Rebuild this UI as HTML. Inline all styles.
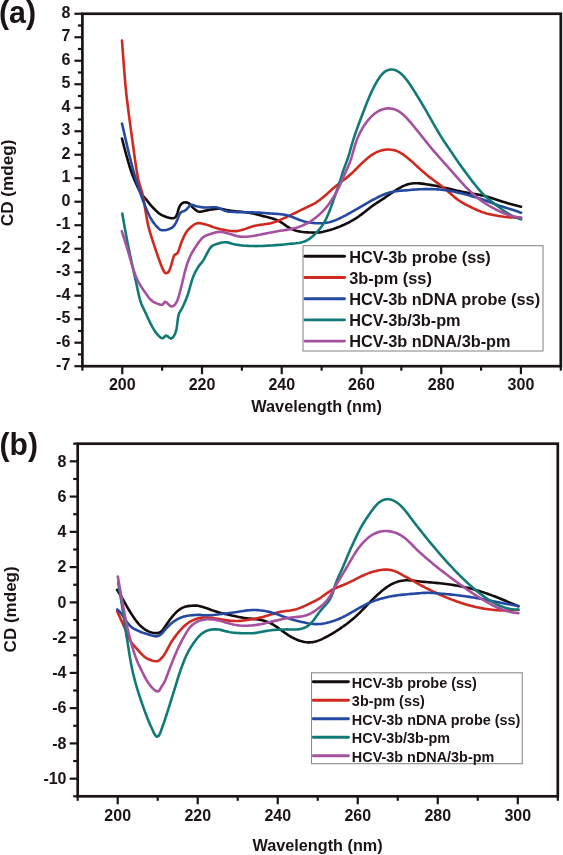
<!DOCTYPE html>
<html><head><meta charset="utf-8"><style>html,body{margin:0;padding:0;background:#fff;width:563px;height:855px;overflow:hidden}svg{display:block;will-change:transform}</style></head><body>
<svg width="563" height="855" viewBox="0 0 563 855">
<rect width="563" height="855" fill="#ffffff"/>
<g font-family='"Liberation Sans", sans-serif' font-weight="bold" fill="#1c1414">
<rect x="82.40" y="13.75" width="478.40" height="352.45" fill="none" stroke="#1c1414" stroke-width="2.7"/>
<line x1="74.40" y1="366.20" x2="82.40" y2="366.20" stroke="#1c1414" stroke-width="2.2"/>
<text x="70.30" y="370.30" text-anchor="end" font-size="16">-7</text>
<line x1="77.90" y1="354.45" x2="82.40" y2="354.45" stroke="#1c1414" stroke-width="2.2"/>
<line x1="74.40" y1="342.70" x2="82.40" y2="342.70" stroke="#1c1414" stroke-width="2.2"/>
<text x="70.30" y="346.80" text-anchor="end" font-size="16">-6</text>
<line x1="77.90" y1="330.95" x2="82.40" y2="330.95" stroke="#1c1414" stroke-width="2.2"/>
<line x1="74.40" y1="319.21" x2="82.40" y2="319.21" stroke="#1c1414" stroke-width="2.2"/>
<text x="70.30" y="323.31" text-anchor="end" font-size="16">-5</text>
<line x1="77.90" y1="307.46" x2="82.40" y2="307.46" stroke="#1c1414" stroke-width="2.2"/>
<line x1="74.40" y1="295.71" x2="82.40" y2="295.71" stroke="#1c1414" stroke-width="2.2"/>
<text x="70.30" y="299.81" text-anchor="end" font-size="16">-4</text>
<line x1="77.90" y1="283.96" x2="82.40" y2="283.96" stroke="#1c1414" stroke-width="2.2"/>
<line x1="74.40" y1="272.21" x2="82.40" y2="272.21" stroke="#1c1414" stroke-width="2.2"/>
<text x="70.30" y="276.31" text-anchor="end" font-size="16">-3</text>
<line x1="77.90" y1="260.47" x2="82.40" y2="260.47" stroke="#1c1414" stroke-width="2.2"/>
<line x1="74.40" y1="248.72" x2="82.40" y2="248.72" stroke="#1c1414" stroke-width="2.2"/>
<text x="70.30" y="252.82" text-anchor="end" font-size="16">-2</text>
<line x1="77.90" y1="236.97" x2="82.40" y2="236.97" stroke="#1c1414" stroke-width="2.2"/>
<line x1="74.40" y1="225.22" x2="82.40" y2="225.22" stroke="#1c1414" stroke-width="2.2"/>
<text x="70.30" y="229.32" text-anchor="end" font-size="16">-1</text>
<line x1="77.90" y1="213.47" x2="82.40" y2="213.47" stroke="#1c1414" stroke-width="2.2"/>
<line x1="74.40" y1="201.72" x2="82.40" y2="201.72" stroke="#1c1414" stroke-width="2.2"/>
<text x="70.30" y="205.82" text-anchor="end" font-size="16">0</text>
<line x1="77.90" y1="189.97" x2="82.40" y2="189.97" stroke="#1c1414" stroke-width="2.2"/>
<line x1="74.40" y1="178.23" x2="82.40" y2="178.23" stroke="#1c1414" stroke-width="2.2"/>
<text x="70.30" y="182.33" text-anchor="end" font-size="16">1</text>
<line x1="77.90" y1="166.48" x2="82.40" y2="166.48" stroke="#1c1414" stroke-width="2.2"/>
<line x1="74.40" y1="154.73" x2="82.40" y2="154.73" stroke="#1c1414" stroke-width="2.2"/>
<text x="70.30" y="158.83" text-anchor="end" font-size="16">2</text>
<line x1="77.90" y1="142.98" x2="82.40" y2="142.98" stroke="#1c1414" stroke-width="2.2"/>
<line x1="74.40" y1="131.23" x2="82.40" y2="131.23" stroke="#1c1414" stroke-width="2.2"/>
<text x="70.30" y="135.33" text-anchor="end" font-size="16">3</text>
<line x1="77.90" y1="119.48" x2="82.40" y2="119.48" stroke="#1c1414" stroke-width="2.2"/>
<line x1="74.40" y1="107.74" x2="82.40" y2="107.74" stroke="#1c1414" stroke-width="2.2"/>
<text x="70.30" y="111.84" text-anchor="end" font-size="16">4</text>
<line x1="77.90" y1="95.99" x2="82.40" y2="95.99" stroke="#1c1414" stroke-width="2.2"/>
<line x1="74.40" y1="84.24" x2="82.40" y2="84.24" stroke="#1c1414" stroke-width="2.2"/>
<text x="70.30" y="88.34" text-anchor="end" font-size="16">5</text>
<line x1="77.90" y1="72.49" x2="82.40" y2="72.49" stroke="#1c1414" stroke-width="2.2"/>
<line x1="74.40" y1="60.74" x2="82.40" y2="60.74" stroke="#1c1414" stroke-width="2.2"/>
<text x="70.30" y="64.84" text-anchor="end" font-size="16">6</text>
<line x1="77.90" y1="48.99" x2="82.40" y2="48.99" stroke="#1c1414" stroke-width="2.2"/>
<line x1="74.40" y1="37.25" x2="82.40" y2="37.25" stroke="#1c1414" stroke-width="2.2"/>
<text x="70.30" y="41.35" text-anchor="end" font-size="16">7</text>
<line x1="77.90" y1="25.50" x2="82.40" y2="25.50" stroke="#1c1414" stroke-width="2.2"/>
<line x1="74.40" y1="13.75" x2="82.40" y2="13.75" stroke="#1c1414" stroke-width="2.2"/>
<text x="70.30" y="17.85" text-anchor="end" font-size="16">8</text>
<line x1="82.40" y1="366.20" x2="82.40" y2="370.70" stroke="#1c1414" stroke-width="2.2"/>
<line x1="122.27" y1="366.20" x2="122.27" y2="374.20" stroke="#1c1414" stroke-width="2.2"/>
<text x="122.27" y="390.30" text-anchor="middle" font-size="16">200</text>
<line x1="162.13" y1="366.20" x2="162.13" y2="370.70" stroke="#1c1414" stroke-width="2.2"/>
<line x1="202.00" y1="366.20" x2="202.00" y2="374.20" stroke="#1c1414" stroke-width="2.2"/>
<text x="202.00" y="390.30" text-anchor="middle" font-size="16">220</text>
<line x1="241.87" y1="366.20" x2="241.87" y2="370.70" stroke="#1c1414" stroke-width="2.2"/>
<line x1="281.73" y1="366.20" x2="281.73" y2="374.20" stroke="#1c1414" stroke-width="2.2"/>
<text x="281.73" y="390.30" text-anchor="middle" font-size="16">240</text>
<line x1="321.60" y1="366.20" x2="321.60" y2="370.70" stroke="#1c1414" stroke-width="2.2"/>
<line x1="361.47" y1="366.20" x2="361.47" y2="374.20" stroke="#1c1414" stroke-width="2.2"/>
<text x="361.47" y="390.30" text-anchor="middle" font-size="16">260</text>
<line x1="401.33" y1="366.20" x2="401.33" y2="370.70" stroke="#1c1414" stroke-width="2.2"/>
<line x1="441.20" y1="366.20" x2="441.20" y2="374.20" stroke="#1c1414" stroke-width="2.2"/>
<text x="441.20" y="390.30" text-anchor="middle" font-size="16">280</text>
<line x1="481.07" y1="366.20" x2="481.07" y2="370.70" stroke="#1c1414" stroke-width="2.2"/>
<line x1="520.93" y1="366.20" x2="520.93" y2="374.20" stroke="#1c1414" stroke-width="2.2"/>
<text x="520.93" y="390.30" text-anchor="middle" font-size="16">300</text>
<line x1="560.80" y1="366.20" x2="560.80" y2="370.70" stroke="#1c1414" stroke-width="2.2"/>
<text x="251.3" y="411.6" font-size="16" textLength="130.6" lengthAdjust="spacingAndGlyphs">Wavelength (nm)</text>
<text transform="translate(13.3,226.2) rotate(-90)" font-size="16" textLength="86.7" lengthAdjust="spacingAndGlyphs">CD (mdeg)</text>
<text x="-1.0" y="23.2" font-size="31.3" textLength="37.1" lengthAdjust="spacingAndGlyphs">(a)</text>
<rect x="77.70" y="443.70" width="480.10" height="352.60" fill="none" stroke="#1c1414" stroke-width="2.7"/>
<line x1="73.20" y1="796.30" x2="77.70" y2="796.30" stroke="#1c1414" stroke-width="2.2"/>
<line x1="69.70" y1="778.67" x2="77.70" y2="778.67" stroke="#1c1414" stroke-width="2.2"/>
<text x="66.50" y="783.87" text-anchor="end" font-size="16">-10</text>
<line x1="73.20" y1="761.04" x2="77.70" y2="761.04" stroke="#1c1414" stroke-width="2.2"/>
<line x1="69.70" y1="743.41" x2="77.70" y2="743.41" stroke="#1c1414" stroke-width="2.2"/>
<text x="66.50" y="748.61" text-anchor="end" font-size="16">-8</text>
<line x1="73.20" y1="725.78" x2="77.70" y2="725.78" stroke="#1c1414" stroke-width="2.2"/>
<line x1="69.70" y1="708.15" x2="77.70" y2="708.15" stroke="#1c1414" stroke-width="2.2"/>
<text x="66.50" y="713.35" text-anchor="end" font-size="16">-6</text>
<line x1="73.20" y1="690.52" x2="77.70" y2="690.52" stroke="#1c1414" stroke-width="2.2"/>
<line x1="69.70" y1="672.89" x2="77.70" y2="672.89" stroke="#1c1414" stroke-width="2.2"/>
<text x="66.50" y="678.09" text-anchor="end" font-size="16">-4</text>
<line x1="73.20" y1="655.26" x2="77.70" y2="655.26" stroke="#1c1414" stroke-width="2.2"/>
<line x1="69.70" y1="637.63" x2="77.70" y2="637.63" stroke="#1c1414" stroke-width="2.2"/>
<text x="66.50" y="642.83" text-anchor="end" font-size="16">-2</text>
<line x1="73.20" y1="620.00" x2="77.70" y2="620.00" stroke="#1c1414" stroke-width="2.2"/>
<line x1="69.70" y1="602.37" x2="77.70" y2="602.37" stroke="#1c1414" stroke-width="2.2"/>
<text x="66.50" y="607.57" text-anchor="end" font-size="16">0</text>
<line x1="73.20" y1="584.74" x2="77.70" y2="584.74" stroke="#1c1414" stroke-width="2.2"/>
<line x1="69.70" y1="567.11" x2="77.70" y2="567.11" stroke="#1c1414" stroke-width="2.2"/>
<text x="66.50" y="572.31" text-anchor="end" font-size="16">2</text>
<line x1="73.20" y1="549.48" x2="77.70" y2="549.48" stroke="#1c1414" stroke-width="2.2"/>
<line x1="69.70" y1="531.85" x2="77.70" y2="531.85" stroke="#1c1414" stroke-width="2.2"/>
<text x="66.50" y="537.05" text-anchor="end" font-size="16">4</text>
<line x1="73.20" y1="514.22" x2="77.70" y2="514.22" stroke="#1c1414" stroke-width="2.2"/>
<line x1="69.70" y1="496.59" x2="77.70" y2="496.59" stroke="#1c1414" stroke-width="2.2"/>
<text x="66.50" y="501.79" text-anchor="end" font-size="16">6</text>
<line x1="73.20" y1="478.96" x2="77.70" y2="478.96" stroke="#1c1414" stroke-width="2.2"/>
<line x1="69.70" y1="461.33" x2="77.70" y2="461.33" stroke="#1c1414" stroke-width="2.2"/>
<text x="66.50" y="466.53" text-anchor="end" font-size="16">8</text>
<line x1="73.20" y1="443.70" x2="77.70" y2="443.70" stroke="#1c1414" stroke-width="2.2"/>
<line x1="77.70" y1="796.30" x2="77.70" y2="800.80" stroke="#1c1414" stroke-width="2.2"/>
<line x1="117.71" y1="796.30" x2="117.71" y2="804.30" stroke="#1c1414" stroke-width="2.2"/>
<text x="117.71" y="821.30" text-anchor="middle" font-size="16">200</text>
<line x1="157.72" y1="796.30" x2="157.72" y2="800.80" stroke="#1c1414" stroke-width="2.2"/>
<line x1="197.73" y1="796.30" x2="197.73" y2="804.30" stroke="#1c1414" stroke-width="2.2"/>
<text x="197.73" y="821.30" text-anchor="middle" font-size="16">220</text>
<line x1="237.73" y1="796.30" x2="237.73" y2="800.80" stroke="#1c1414" stroke-width="2.2"/>
<line x1="277.74" y1="796.30" x2="277.74" y2="804.30" stroke="#1c1414" stroke-width="2.2"/>
<text x="277.74" y="821.30" text-anchor="middle" font-size="16">240</text>
<line x1="317.75" y1="796.30" x2="317.75" y2="800.80" stroke="#1c1414" stroke-width="2.2"/>
<line x1="357.76" y1="796.30" x2="357.76" y2="804.30" stroke="#1c1414" stroke-width="2.2"/>
<text x="357.76" y="821.30" text-anchor="middle" font-size="16">260</text>
<line x1="397.77" y1="796.30" x2="397.77" y2="800.80" stroke="#1c1414" stroke-width="2.2"/>
<line x1="437.77" y1="796.30" x2="437.77" y2="804.30" stroke="#1c1414" stroke-width="2.2"/>
<text x="437.77" y="821.30" text-anchor="middle" font-size="16">280</text>
<line x1="477.78" y1="796.30" x2="477.78" y2="800.80" stroke="#1c1414" stroke-width="2.2"/>
<line x1="517.79" y1="796.30" x2="517.79" y2="804.30" stroke="#1c1414" stroke-width="2.2"/>
<text x="517.79" y="821.30" text-anchor="middle" font-size="16">300</text>
<line x1="557.80" y1="796.30" x2="557.80" y2="800.80" stroke="#1c1414" stroke-width="2.2"/>
<text x="252.6" y="850.9" font-size="16" textLength="130.0" lengthAdjust="spacingAndGlyphs">Wavelength (nm)</text>
<text transform="translate(16.2,652.4) rotate(-90)" font-size="16" textLength="86.1" lengthAdjust="spacingAndGlyphs">CD (mdeg)</text>
<text x="-0.5" y="454.85" font-size="31.3" textLength="38.4" lengthAdjust="spacingAndGlyphs">(b)</text>
</g>
<path d="M122.00,138.60 L122.49,140.54 L122.98,142.48 L123.48,144.42 L123.97,146.36 L124.48,148.29 L125.00,150.23 L125.52,152.16 L126.07,154.08 L126.61,156.01 L127.14,157.94 L127.68,159.87 L128.22,161.79 L128.78,163.72 L129.34,165.64 L129.93,167.55 L130.54,169.46 L131.17,171.35 L131.84,173.24 L132.55,175.11 L133.27,176.98 L134.02,178.83 L134.79,180.68 L135.59,182.52 L136.40,184.34 L137.24,186.16 L138.11,187.96 L139.01,189.75 L139.96,191.51 L141.00,193.22 L142.16,194.85 L143.43,196.40 L144.77,197.89 L146.12,199.37 L147.38,200.91 L148.59,202.51 L149.80,204.11 L151.09,205.63 L152.47,207.08 L153.86,208.52 L155.26,209.95 L156.71,211.33 L158.21,212.66 L159.79,213.88 L161.49,214.94 L163.29,215.81 L165.15,216.56 L167.05,217.19 L168.98,217.72 L170.94,218.12 L172.93,218.32 L174.81,217.78 L176.09,216.26 L176.92,214.44 L177.54,212.54 L178.10,210.62 L178.68,208.70 L179.39,206.83 L180.37,205.09 L181.66,203.57 L183.39,202.59 L185.37,202.32 L187.34,202.60 L189.12,203.47 L190.51,204.91 L191.78,206.46 L193.20,207.86 L194.69,209.21 L196.23,210.48 L197.94,211.50 L199.90,211.82 L201.86,211.44 L203.82,211.04 L205.79,210.65 L207.74,210.22 L209.69,209.79 L211.66,209.41 L213.64,209.13 L215.63,208.91 L217.63,208.77 L219.63,208.78 L221.62,208.98 L223.58,209.35 L225.54,209.78 L227.50,210.15 L229.48,210.45 L231.46,210.73 L233.45,210.99 L235.43,211.23 L237.42,211.46 L239.42,211.64 L241.41,211.81 L243.41,211.99 L245.40,212.21 L247.38,212.47 L249.35,212.78 L251.31,213.15 L253.26,213.57 L255.20,214.04 L257.13,214.55 L259.06,215.08 L260.99,215.61 L262.92,216.12 L264.87,216.61 L266.83,217.07 L268.79,217.52 L270.74,218.00 L272.66,218.54 L274.53,219.16 L276.36,219.89 L278.14,220.72 L279.88,221.66 L281.57,222.68 L283.24,223.78 L284.90,224.91 L286.56,226.06 L288.24,227.16 L289.95,228.17 L291.72,229.06 L293.54,229.82 L295.42,230.44 L297.34,230.95 L299.29,231.37 L301.26,231.71 L303.24,231.98 L305.24,232.20 L307.25,232.36 L309.26,232.48 L311.26,232.57 L313.26,232.61 L315.26,232.60 L317.25,232.52 L319.23,232.35 L321.21,232.10 L323.17,231.76 L325.13,231.34 L327.07,230.86 L329.00,230.33 L330.92,229.74 L332.83,229.12 L334.72,228.48 L336.61,227.80 L338.48,227.09 L340.34,226.35 L342.18,225.57 L344.01,224.76 L345.82,223.91 L347.62,223.03 L349.40,222.11 L351.16,221.16 L352.90,220.17 L354.62,219.14 L356.31,218.07 L357.97,216.96 L359.60,215.81 L361.21,214.62 L362.79,213.39 L364.36,212.15 L365.92,210.90 L367.49,209.65 L369.06,208.43 L370.66,207.22 L372.28,206.05 L373.91,204.90 L375.57,203.78 L377.24,202.68 L378.91,201.59 L380.59,200.50 L382.27,199.41 L383.94,198.30 L385.60,197.18 L387.24,196.04 L388.89,194.90 L390.53,193.75 L392.18,192.62 L393.85,191.51 L395.53,190.43 L397.24,189.38 L398.96,188.35 L400.72,187.36 L402.50,186.43 L404.32,185.59 L406.18,184.86 L408.07,184.26 L409.99,183.79 L411.92,183.47 L413.88,183.28 L415.85,183.21 L417.84,183.25 L419.83,183.38 L421.83,183.60 L423.82,183.89 L425.81,184.20 L427.80,184.51 L429.77,184.83 L431.75,185.14 L433.72,185.47 L435.69,185.81 L437.66,186.18 L439.62,186.58 L441.58,187.00 L443.53,187.45 L445.48,187.90 L447.42,188.37 L449.37,188.84 L451.31,189.31 L453.26,189.78 L455.21,190.24 L457.16,190.68 L459.11,191.12 L461.07,191.53 L463.03,191.92 L465.00,192.30 L466.97,192.66 L468.94,193.00 L470.91,193.34 L472.88,193.67 L474.86,194.01 L476.83,194.36 L478.79,194.74 L480.75,195.14 L482.70,195.58 L484.64,196.05 L486.58,196.56 L488.50,197.10 L490.42,197.68 L492.33,198.28 L494.23,198.90 L496.13,199.52 L498.03,200.15 L499.94,200.77 L501.84,201.39 L503.75,201.99 L505.66,202.59 L507.57,203.17 L509.49,203.74 L511.41,204.30 L513.34,204.84 L515.27,205.36 L517.21,205.86 L519.15,206.33 L521.10,206.80" fill="none" stroke="#140c0c" stroke-width="2.6" stroke-linejoin="round" stroke-linecap="round"/>
<path d="M122.00,40.50 L122.14,42.50 L122.29,44.49 L122.43,46.49 L122.57,48.48 L122.72,50.48 L122.86,52.47 L123.01,54.47 L123.15,56.46 L123.30,58.46 L123.45,60.45 L123.60,62.45 L123.76,64.44 L123.91,66.44 L124.07,68.43 L124.23,70.43 L124.39,72.42 L124.55,74.42 L124.71,76.41 L124.87,78.40 L125.04,80.40 L125.21,82.39 L125.39,84.38 L125.57,86.38 L125.76,88.37 L125.96,90.36 L126.16,92.35 L126.38,94.34 L126.60,96.33 L126.84,98.31 L127.08,100.30 L127.32,102.28 L127.57,104.27 L127.83,106.25 L128.08,108.24 L128.33,110.22 L128.58,112.21 L128.84,114.19 L129.10,116.18 L129.36,118.16 L129.62,120.14 L129.89,122.13 L130.16,124.11 L130.43,126.09 L130.69,128.07 L130.96,130.06 L131.23,132.04 L131.49,134.02 L131.76,136.01 L132.03,137.99 L132.30,139.97 L132.57,141.95 L132.84,143.94 L133.11,145.92 L133.39,147.90 L133.66,149.88 L133.94,151.86 L134.21,153.84 L134.49,155.83 L134.76,157.81 L135.05,159.79 L135.34,161.77 L135.63,163.75 L135.93,165.72 L136.24,167.70 L136.54,169.68 L136.85,171.66 L137.16,173.63 L137.51,175.60 L137.88,177.57 L138.29,179.53 L138.76,181.47 L139.30,183.40 L139.87,185.31 L140.47,187.22 L141.08,189.13 L141.67,191.04 L142.21,192.97 L142.69,194.91 L143.11,196.87 L143.46,198.84 L143.80,200.81 L144.16,202.78 L144.51,204.75 L144.84,206.72 L145.16,208.69 L145.47,210.67 L145.79,212.64 L146.12,214.62 L146.46,216.59 L146.81,218.56 L147.18,220.53 L147.57,222.49 L147.99,224.44 L148.45,226.39 L148.94,228.33 L149.46,230.26 L150.01,232.19 L150.57,234.11 L151.15,236.02 L151.75,237.93 L152.36,239.83 L152.98,241.74 L153.61,243.64 L154.24,245.54 L154.88,247.43 L155.51,249.33 L156.15,251.23 L156.79,253.12 L157.44,255.01 L158.09,256.90 L158.76,258.79 L159.44,260.67 L160.12,262.55 L160.83,264.43 L161.55,266.29 L162.31,268.14 L163.14,269.96 L164.08,271.73 L165.46,273.13 L167.39,273.06 L168.72,271.59 L169.65,269.82 L170.36,267.95 L170.95,266.04 L171.51,264.12 L172.05,262.19 L172.59,260.27 L173.17,258.35 L173.80,256.45 L174.69,254.67 L176.47,254.00 L177.80,252.59 L178.58,250.75 L179.24,248.86 L179.86,246.96 L180.48,245.06 L181.13,243.17 L181.83,241.29 L182.62,239.45 L183.42,237.62 L184.26,235.81 L185.18,234.03 L186.22,232.32 L187.41,230.71 L188.73,229.21 L190.14,227.79 L191.63,226.46 L193.21,225.23 L194.91,224.17 L196.74,223.39 L198.71,223.07 L200.70,223.26 L202.65,223.72 L204.58,224.23 L206.52,224.73 L208.43,225.34 L210.31,226.01 L212.19,226.70 L214.07,227.37 L215.97,228.00 L217.90,228.55 L219.84,229.01 L221.80,229.44 L223.76,229.83 L225.73,230.19 L227.70,230.52 L229.68,230.80 L231.67,231.03 L233.67,231.15 L235.66,231.10 L237.63,230.87 L239.58,230.50 L241.51,230.03 L243.43,229.49 L245.34,228.88 L247.24,228.22 L249.13,227.55 L251.04,226.91 L252.95,226.34 L254.87,225.84 L256.82,225.43 L258.78,225.08 L260.75,224.78 L262.73,224.51 L264.72,224.26 L266.70,223.97 L268.66,223.64 L270.60,223.22 L272.52,222.72 L274.42,222.13 L276.30,221.47 L278.16,220.74 L280.01,219.96 L281.84,219.14 L283.67,218.31 L285.49,217.47 L287.30,216.63 L289.12,215.79 L290.93,214.94 L292.73,214.08 L294.53,213.21 L296.33,212.33 L298.13,211.45 L299.93,210.57 L301.73,209.70 L303.53,208.84 L305.34,207.98 L307.15,207.13 L308.96,206.26 L310.76,205.38 L312.54,204.47 L314.29,203.52 L316.01,202.51 L317.69,201.44 L319.33,200.30 L320.93,199.11 L322.49,197.86 L324.02,196.58 L325.53,195.26 L327.03,193.93 L328.51,192.58 L329.99,191.24 L331.48,189.90 L332.98,188.57 L334.49,187.26 L336.02,185.97 L337.57,184.71 L339.14,183.47 L340.73,182.25 L342.32,181.04 L343.91,179.83 L345.49,178.60 L347.05,177.36 L348.59,176.08 L350.10,174.78 L351.58,173.44 L353.03,172.07 L354.45,170.67 L355.86,169.25 L357.27,167.82 L358.68,166.40 L360.10,164.99 L361.53,163.59 L362.99,162.22 L364.47,160.86 L365.97,159.53 L367.49,158.22 L369.05,156.96 L370.65,155.75 L372.30,154.61 L374.00,153.55 L375.75,152.61 L377.56,151.81 L379.41,151.13 L381.32,150.55 L383.29,150.07 L385.27,149.73 L387.27,149.56 L389.25,149.55 L391.21,149.70 L393.15,150.01 L395.05,150.48 L396.90,151.10 L398.71,151.86 L400.46,152.76 L402.16,153.77 L403.81,154.91 L405.42,156.14 L406.99,157.42 L408.54,158.70 L410.07,159.98 L411.58,161.29 L413.07,162.64 L414.55,163.99 L416.02,165.35 L417.49,166.71 L418.97,168.05 L420.45,169.39 L421.95,170.73 L423.45,172.05 L424.97,173.35 L426.50,174.64 L428.05,175.90 L429.61,177.15 L431.19,178.38 L432.78,179.59 L434.38,180.79 L435.99,181.98 L437.60,183.17 L439.20,184.37 L440.80,185.57 L442.38,186.79 L443.95,188.04 L445.49,189.30 L447.02,190.60 L448.53,191.91 L450.03,193.24 L451.54,194.56 L453.05,195.87 L454.58,197.15 L456.15,198.39 L457.75,199.59 L459.38,200.72 L461.06,201.80 L462.76,202.83 L464.50,203.82 L466.26,204.78 L468.04,205.71 L469.82,206.62 L471.62,207.51 L473.42,208.38 L475.23,209.23 L477.06,210.05 L478.90,210.82 L480.76,211.54 L482.64,212.21 L484.54,212.83 L486.46,213.39 L488.39,213.90 L490.34,214.37 L492.29,214.81 L494.25,215.22 L496.22,215.59 L498.19,215.94 L500.16,216.26 L502.14,216.54 L504.13,216.80 L506.12,217.01 L508.11,217.19 L510.10,217.34 L512.10,217.46 L514.10,217.56 L516.10,217.62 L518.10,217.66 L520.10,217.67 L521.10,217.70" fill="none" stroke="#d02a20" stroke-width="2.6" stroke-linejoin="round" stroke-linecap="round"/>
<path d="M122.00,123.60 L122.45,125.55 L122.90,127.50 L123.35,129.45 L123.80,131.40 L124.25,133.35 L124.70,135.30 L125.15,137.25 L125.60,139.20 L126.05,141.15 L126.50,143.10 L126.94,145.06 L127.39,147.01 L127.83,148.96 L128.28,150.91 L128.75,152.86 L129.22,154.80 L129.71,156.74 L130.20,158.68 L130.71,160.62 L131.21,162.56 L131.72,164.49 L132.23,166.43 L132.75,168.36 L133.28,170.29 L133.82,172.22 L134.36,174.15 L134.91,176.07 L135.48,177.99 L136.06,179.91 L136.64,181.82 L137.24,183.73 L137.85,185.64 L138.46,187.55 L139.08,189.45 L139.72,191.35 L140.36,193.24 L141.02,195.13 L141.69,197.02 L142.38,198.90 L143.08,200.77 L143.79,202.64 L144.52,204.51 L145.26,206.37 L146.01,208.22 L146.79,210.07 L147.59,211.90 L148.42,213.73 L149.29,215.53 L150.20,217.31 L151.19,219.05 L152.25,220.75 L153.39,222.40 L154.59,223.99 L155.87,225.53 L157.22,227.01 L158.62,228.44 L160.19,229.67 L162.09,230.25 L164.09,230.25 L166.07,229.93 L168.00,229.43 L169.89,228.77 L171.69,227.89 L173.26,226.66 L174.50,225.09 L175.54,223.38 L176.51,221.63 L177.30,219.79 L178.02,217.93 L178.75,216.06 L179.58,214.24 L180.68,212.58 L182.33,211.48 L184.25,210.93 L185.99,209.96 L187.36,208.50 L188.63,206.95 L190.01,205.51 L191.81,204.75 L193.72,205.31 L195.56,206.09 L197.52,206.50 L199.49,206.84 L201.47,207.13 L203.46,207.36 L205.45,207.51 L207.45,207.52 L209.46,207.44 L211.45,207.34 L213.45,207.28 L215.46,207.32 L217.44,207.57 L219.35,208.14 L221.18,208.96 L222.96,209.88 L224.78,210.71 L226.70,211.27 L228.67,211.61 L230.67,211.79 L232.66,211.90 L234.65,212.02 L236.65,212.11 L238.65,212.16 L240.66,212.18 L242.67,212.20 L244.67,212.23 L246.67,212.27 L248.67,212.31 L250.67,212.36 L252.67,212.41 L254.67,212.48 L256.67,212.56 L258.67,212.66 L260.67,212.78 L262.67,212.91 L264.66,213.06 L266.66,213.20 L268.66,213.34 L270.65,213.47 L272.65,213.60 L274.66,213.72 L276.66,213.86 L278.65,214.01 L280.65,214.20 L282.63,214.44 L284.60,214.75 L286.55,215.14 L288.47,215.64 L290.37,216.24 L292.24,216.93 L294.10,217.69 L295.95,218.47 L297.80,219.23 L299.66,219.95 L301.54,220.61 L303.43,221.19 L305.35,221.70 L307.29,222.13 L309.26,222.48 L311.24,222.75 L313.24,222.96 L315.25,223.10 L317.26,223.18 L319.26,223.22 L321.26,223.19 L323.25,223.08 L325.23,222.89 L327.20,222.59 L329.15,222.18 L331.09,221.68 L332.99,221.09 L334.88,220.41 L336.74,219.67 L338.57,218.87 L340.39,218.02 L342.19,217.14 L343.97,216.22 L345.74,215.29 L347.50,214.33 L349.26,213.37 L351.01,212.40 L352.76,211.42 L354.51,210.45 L356.25,209.47 L358.00,208.48 L359.73,207.49 L361.47,206.49 L363.19,205.48 L364.92,204.46 L366.65,203.45 L368.38,202.45 L370.12,201.45 L371.86,200.47 L373.61,199.50 L375.38,198.56 L377.15,197.63 L378.94,196.73 L380.75,195.85 L382.57,195.01 L384.42,194.23 L386.29,193.52 L388.18,192.90 L390.09,192.37 L392.02,191.92 L393.98,191.55 L395.94,191.25 L397.93,191.01 L399.92,190.81 L401.92,190.65 L403.92,190.50 L405.91,190.34 L407.91,190.18 L409.91,190.01 L411.90,189.83 L413.91,189.66 L415.92,189.49 L417.92,189.36 L419.90,189.25 L421.87,189.18 L423.82,189.12 L425.78,189.09 L427.72,189.08 L429.67,189.09 L431.61,189.13 L433.56,189.19 L435.52,189.27 L437.48,189.39 L439.45,189.55 L441.43,189.74 L443.42,189.96 L445.43,190.21 L447.41,190.50 L449.39,190.83 L451.35,191.19 L453.32,191.58 L455.28,192.00 L457.23,192.43 L459.18,192.88 L461.13,193.35 L463.07,193.83 L465.01,194.32 L466.95,194.83 L468.88,195.35 L470.81,195.88 L472.74,196.43 L474.66,197.00 L476.57,197.58 L478.48,198.18 L480.39,198.80 L482.28,199.44 L484.17,200.10 L486.05,200.79 L487.93,201.49 L489.80,202.19 L491.67,202.90 L493.55,203.60 L495.42,204.29 L497.31,204.96 L499.20,205.61 L501.10,206.24 L503.01,206.85 L504.92,207.45 L506.83,208.04 L508.74,208.62 L510.66,209.21 L512.57,209.81 L514.47,210.42 L516.37,211.05 L518.27,211.71 L520.15,212.39 L521.10,212.70" fill="none" stroke="#2549a2" stroke-width="2.6" stroke-linejoin="round" stroke-linecap="round"/>
<path d="M122.30,213.60 L122.64,215.57 L122.98,217.55 L123.32,219.52 L123.66,221.49 L124.01,223.46 L124.35,225.44 L124.70,227.41 L125.05,229.38 L125.41,231.35 L125.77,233.32 L126.14,235.28 L126.51,237.25 L126.89,239.22 L127.27,241.18 L127.66,243.15 L128.05,245.11 L128.44,247.07 L128.84,249.04 L129.24,251.00 L129.64,252.96 L130.05,254.92 L130.46,256.88 L130.87,258.84 L131.29,260.79 L131.71,262.75 L132.14,264.71 L132.57,266.66 L133.01,268.62 L133.45,270.57 L133.89,272.52 L134.33,274.48 L134.77,276.43 L135.21,278.38 L135.65,280.33 L136.09,282.29 L136.51,284.24 L136.93,286.20 L137.34,288.16 L137.74,290.12 L138.16,292.08 L138.58,294.04 L139.03,295.99 L139.52,297.93 L140.06,299.86 L140.66,301.77 L141.33,303.65 L142.09,305.50 L142.92,307.33 L143.78,309.13 L144.64,310.94 L145.48,312.76 L146.32,314.58 L147.15,316.40 L147.99,318.21 L148.84,320.03 L149.71,321.83 L150.59,323.63 L151.51,325.41 L152.45,327.17 L153.46,328.91 L154.54,330.59 L155.69,332.23 L156.92,333.81 L158.23,335.32 L159.65,336.73 L161.24,337.94 L163.11,338.17 L164.50,336.75 L166.01,335.51 L167.78,336.33 L169.27,337.67 L171.00,338.60 L172.68,337.61 L173.88,336.01 L174.80,334.23 L175.55,332.38 L176.15,330.47 L176.57,328.51 L176.89,326.53 L177.16,324.55 L177.41,322.56 L177.65,320.58 L177.92,318.59 L178.24,316.62 L178.69,314.67 L179.37,312.79 L180.38,311.06 L181.48,309.39 L182.38,307.60 L183.22,305.78 L184.05,303.96 L184.87,302.13 L185.65,300.29 L186.41,298.44 L187.12,296.57 L187.78,294.68 L188.38,292.77 L188.95,290.85 L189.49,288.92 L190.02,286.99 L190.55,285.06 L191.10,283.13 L191.66,281.21 L192.27,279.31 L192.94,277.42 L193.70,275.57 L194.52,273.74 L195.41,271.95 L196.37,270.19 L197.38,268.46 L198.42,266.75 L199.56,265.11 L200.83,263.56 L202.10,262.01 L203.26,260.38 L204.29,258.66 L205.24,256.90 L206.16,255.12 L207.07,253.34 L208.01,251.57 L209.00,249.83 L210.09,248.16 L211.40,246.64 L212.97,245.42 L214.80,244.62 L216.72,244.03 L218.62,243.40 L220.54,242.84 L222.50,242.43 L224.49,242.21 L226.49,242.24 L228.45,242.60 L230.37,243.19 L232.27,243.80 L234.21,244.27 L236.18,244.61 L238.16,244.90 L240.14,245.19 L242.12,245.45 L244.11,245.65 L246.11,245.79 L248.11,245.89 L250.12,245.97 L252.12,246.03 L254.12,246.07 L256.12,246.08 L258.12,246.07 L260.12,246.02 L262.12,245.96 L264.12,245.88 L266.12,245.78 L268.12,245.67 L270.12,245.55 L272.12,245.43 L274.12,245.30 L276.12,245.17 L278.11,245.03 L280.11,244.88 L282.10,244.71 L284.10,244.52 L286.08,244.29 L288.07,244.03 L290.07,243.81 L292.08,243.63 L294.09,243.47 L296.09,243.28 L298.07,243.03 L300.00,242.71 L301.89,242.27 L303.73,241.71 L305.51,241.02 L307.23,240.18 L308.89,239.20 L310.50,238.09 L312.06,236.85 L313.57,235.50 L315.02,234.05 L316.43,232.59 L317.80,231.13 L319.12,229.63 L320.38,228.09 L321.58,226.50 L322.71,224.85 L323.77,223.16 L324.77,221.43 L325.70,219.65 L326.58,217.85 L327.41,216.03 L328.21,214.19 L328.98,212.34 L329.72,210.48 L330.43,208.61 L331.12,206.73 L331.80,204.85 L332.47,202.96 L333.13,201.07 L333.79,199.18 L334.45,197.29 L335.11,195.40 L335.77,193.51 L336.43,191.62 L337.09,189.73 L337.74,187.84 L338.39,185.94 L339.04,184.05 L339.67,182.15 L340.29,180.24 L340.90,178.34 L341.50,176.32 L342.09,174.35 L342.68,172.47 L343.29,170.67 L343.90,168.93 L344.51,167.25 L345.12,165.60 L345.73,163.96 L346.33,162.34 L346.93,160.70 L347.53,159.05 L348.12,157.35 L348.69,155.61 L349.25,153.79 L349.80,151.90 L350.33,149.91 L350.87,147.87 L351.42,145.95 L351.99,144.03 L352.56,142.11 L353.15,140.20 L353.75,138.29 L354.36,136.38 L355.00,134.49 L355.64,132.59 L356.31,130.70 L356.99,128.82 L357.67,126.94 L358.37,125.06 L359.07,123.19 L359.78,121.31 L360.48,119.44 L361.19,117.57 L361.89,115.69 L362.60,113.82 L363.31,111.95 L364.03,110.08 L364.75,108.21 L365.47,106.34 L366.20,104.48 L366.94,102.62 L367.69,100.76 L368.45,98.91 L369.22,97.06 L370.02,95.22 L370.83,93.40 L371.67,91.58 L372.53,89.77 L373.43,87.98 L374.35,86.20 L375.30,84.43 L376.28,82.68 L377.31,80.95 L378.38,79.23 L379.51,77.51 L380.72,75.85 L382.03,74.27 L383.46,72.85 L384.99,71.63 L386.64,70.65 L388.38,69.95 L390.19,69.57 L392.04,69.50 L393.89,69.76 L395.72,70.33 L397.50,71.17 L399.19,72.25 L400.80,73.52 L402.30,74.92 L403.71,76.39 L405.04,77.91 L406.31,79.48 L407.53,81.08 L408.70,82.71 L409.85,84.36 L410.97,86.02 L412.07,87.70 L413.15,89.38 L414.22,91.08 L415.28,92.78 L416.34,94.48 L417.39,96.18 L418.44,97.89 L419.48,99.60 L420.52,101.31 L421.56,103.02 L422.58,104.74 L423.61,106.46 L424.62,108.19 L425.62,109.92 L426.62,111.65 L427.62,113.39 L428.60,115.13 L429.59,116.87 L430.58,118.61 L431.57,120.35 L432.56,122.09 L433.56,123.83 L434.56,125.56 L435.56,127.30 L436.56,129.03 L437.57,130.76 L438.58,132.49 L439.59,134.22 L440.63,135.93 L441.68,137.63 L442.75,139.32 L443.84,141.00 L444.95,142.67 L446.07,144.32 L447.20,145.97 L448.34,147.62 L449.48,149.27 L450.61,150.92 L451.74,152.57 L452.86,154.23 L453.98,155.89 L455.10,157.55 L456.23,159.20 L457.36,160.86 L458.50,162.50 L459.65,164.14 L460.82,165.76 L461.99,167.39 L463.17,169.01 L464.35,170.62 L465.54,172.24 L466.73,173.85 L467.92,175.45 L469.11,177.06 L470.32,178.66 L471.53,180.26 L472.75,181.84 L473.98,183.42 L475.22,184.99 L476.48,186.55 L477.76,188.09 L479.06,189.62 L480.38,191.12 L481.73,192.60 L483.11,194.04 L484.53,195.46 L485.98,196.83 L487.47,198.16 L488.99,199.46 L490.54,200.72 L492.11,201.96 L493.70,203.18 L495.30,204.39 L496.89,205.60 L498.50,206.81 L500.10,208.01 L501.71,209.20 L503.34,210.37 L504.99,211.50 L506.66,212.59 L508.36,213.64 L510.08,214.64 L511.84,215.59 L513.63,216.47 L515.46,217.28 L517.33,218.01 L519.24,218.67 L521.10,219.40" fill="none" stroke="#127a76" stroke-width="2.6" stroke-linejoin="round" stroke-linecap="round"/>
<path d="M121.80,231.20 L122.40,233.11 L123.01,235.02 L123.62,236.92 L124.22,238.83 L124.82,240.74 L125.42,242.65 L126.01,244.57 L126.60,246.48 L127.18,248.40 L127.75,250.31 L128.32,252.24 L128.88,254.16 L129.44,256.08 L130.00,258.00 L130.56,259.92 L131.12,261.84 L131.69,263.76 L132.27,265.68 L132.86,267.59 L133.47,269.50 L134.10,271.40 L134.74,273.30 L135.41,275.18 L136.12,277.06 L136.91,278.89 L137.78,280.70 L138.71,282.47 L139.70,284.21 L140.75,285.92 L141.84,287.60 L142.95,289.26 L144.09,290.91 L145.24,292.54 L146.41,294.17 L147.54,295.83 L148.68,297.47 L149.93,299.03 L151.37,300.42 L153.01,301.56 L154.76,302.53 L156.58,303.38 L158.44,304.10 L160.36,304.68 L162.33,304.82 L163.65,303.39 L164.77,301.77 L166.54,302.43 L167.96,303.84 L169.36,305.27 L171.00,306.40 L172.95,306.20 L174.57,305.05 L175.80,303.48 L176.78,301.73 L177.57,299.89 L178.22,298.00 L178.79,296.08 L179.33,294.15 L179.84,292.21 L180.34,290.28 L180.84,288.34 L181.35,286.40 L181.85,284.46 L182.33,282.52 L182.79,280.57 L183.24,278.62 L183.69,276.67 L184.15,274.72 L184.63,272.78 L185.14,270.84 L185.69,268.92 L186.27,267.00 L186.85,265.08 L187.45,263.17 L188.09,261.28 L188.79,259.40 L189.56,257.56 L190.41,255.74 L191.34,253.97 L192.31,252.22 L193.33,250.49 L194.37,248.78 L195.44,247.09 L196.54,245.42 L197.67,243.77 L198.83,242.14 L200.05,240.55 L201.33,239.01 L202.73,237.58 L204.33,236.38 L206.12,235.48 L208.02,234.86 L209.92,234.23 L211.79,233.53 L213.69,232.90 L215.63,232.38 L217.59,232.02 L219.59,231.88 L221.59,232.00 L223.56,232.32 L225.52,232.76 L227.46,233.22 L229.40,233.73 L231.31,234.35 L233.20,234.99 L235.11,235.60 L237.05,236.10 L239.01,236.45 L240.99,236.66 L242.96,236.79 L244.94,236.82 L246.93,236.75 L248.93,236.57 L250.92,236.32 L252.91,236.00 L254.88,235.66 L256.86,235.29 L258.83,234.92 L260.79,234.53 L262.76,234.14 L264.72,233.75 L266.68,233.35 L268.64,232.94 L270.60,232.54 L272.57,232.16 L274.53,231.78 L276.50,231.42 L278.48,231.08 L280.46,230.77 L282.45,230.49 L284.43,230.20 L286.40,229.89 L288.36,229.55 L290.32,229.19 L292.27,228.79 L294.21,228.34 L296.13,227.83 L298.03,227.25 L299.91,226.59 L301.76,225.85 L303.59,225.04 L305.39,224.17 L307.16,223.24 L308.91,222.27 L310.63,221.26 L312.30,220.15 L313.92,218.98 L315.52,217.77 L317.08,216.51 L318.61,215.21 L320.10,213.88 L321.55,212.50 L322.95,211.08 L324.32,209.61 L325.63,208.10 L326.90,206.56 L328.14,204.98 L329.33,203.38 L330.49,201.74 L331.62,200.09 L332.71,198.41 L333.77,196.71 L334.80,194.99 L335.80,193.25 L336.76,191.50 L337.69,189.73 L338.59,187.94 L339.45,186.14 L340.28,184.32 L341.09,182.49 L341.89,180.65 L342.68,178.81 L343.47,176.97 L344.27,175.13 L345.08,173.30 L345.90,171.48 L346.73,169.65 L347.55,167.82 L348.35,165.99 L349.12,164.14 L349.86,162.29 L350.55,160.41 L351.19,158.52 L351.79,156.61 L352.34,154.69 L352.87,152.76 L353.40,150.82 L353.92,148.89 L354.46,146.96 L355.04,145.05 L355.65,143.14 L356.32,141.26 L357.03,139.39 L357.78,137.53 L358.59,135.70 L359.44,133.89 L360.34,132.10 L361.28,130.33 L362.26,128.58 L363.29,126.86 L364.37,125.17 L365.50,123.52 L366.69,121.92 L367.94,120.35 L369.25,118.82 L370.61,117.34 L372.04,115.93 L373.54,114.60 L375.11,113.35 L376.75,112.21 L378.47,111.17 L380.26,110.28 L382.11,109.53 L384.01,108.96 L385.96,108.58 L387.93,108.39 L389.91,108.42 L391.88,108.67 L393.80,109.12 L395.66,109.76 L397.45,110.58 L399.17,111.57 L400.82,112.71 L402.38,113.97 L403.88,115.31 L405.32,116.71 L406.72,118.17 L408.07,119.66 L409.40,121.17 L410.71,122.68 L412.02,124.21 L413.31,125.74 L414.59,127.28 L415.86,128.83 L417.12,130.38 L418.38,131.94 L419.63,133.50 L420.88,135.07 L422.12,136.64 L423.36,138.21 L424.61,139.78 L425.85,141.34 L427.10,142.91 L428.35,144.47 L429.61,146.03 L430.88,147.58 L432.16,149.12 L433.44,150.65 L434.74,152.18 L436.05,153.69 L437.37,155.19 L438.70,156.69 L440.03,158.19 L441.36,159.68 L442.69,161.18 L444.02,162.67 L445.35,164.17 L446.68,165.67 L448.01,167.16 L449.34,168.66 L450.67,170.16 L452.00,171.66 L453.33,173.15 L454.66,174.65 L455.99,176.15 L457.32,177.64 L458.65,179.14 L459.98,180.63 L461.32,182.12 L462.66,183.61 L464.02,185.08 L465.39,186.54 L466.78,187.98 L468.19,189.39 L469.63,190.79 L471.08,192.16 L472.56,193.51 L474.06,194.84 L475.58,196.15 L477.12,197.43 L478.68,198.68 L480.26,199.91 L481.87,201.10 L483.50,202.26 L485.16,203.38 L486.85,204.45 L488.56,205.49 L490.29,206.50 L492.03,207.48 L493.79,208.44 L495.56,209.37 L497.35,210.28 L499.15,211.17 L500.96,212.01 L502.80,212.81 L504.65,213.56 L506.52,214.26 L508.40,214.91 L510.31,215.51 L512.23,216.04 L514.18,216.50 L516.14,216.89 L518.13,217.21 L520.14,217.44 L521.10,217.70" fill="none" stroke="#a650a0" stroke-width="2.6" stroke-linejoin="round" stroke-linecap="round"/>
<path d="M117.10,589.80 L118.16,591.50 L119.21,593.20 L120.27,594.91 L121.31,596.62 L122.35,598.34 L123.36,600.06 L124.34,601.81 L125.31,603.56 L126.28,605.32 L127.26,607.07 L128.26,608.81 L129.29,610.52 L130.36,612.22 L131.44,613.91 L132.52,615.59 L133.63,617.26 L134.76,618.92 L135.92,620.55 L137.14,622.14 L138.42,623.68 L139.78,625.15 L141.23,626.53 L142.75,627.84 L144.36,629.04 L146.04,630.13 L147.79,631.10 L149.63,631.89 L151.54,632.49 L153.50,632.92 L155.48,633.16 L157.48,633.13 L159.40,632.56 L161.11,631.52 L162.63,630.23 L163.76,628.58 L164.86,626.90 L166.01,625.26 L167.15,623.61 L168.29,621.96 L169.45,620.33 L170.64,618.72 L171.88,617.15 L173.15,615.59 L174.45,614.07 L175.83,612.62 L177.31,611.27 L178.89,610.03 L180.53,608.89 L182.27,607.89 L184.10,607.08 L186.02,606.49 L187.98,606.10 L189.97,605.84 L191.96,605.68 L193.97,605.61 L195.97,605.63 L197.96,605.82 L199.93,606.20 L201.87,606.70 L203.78,607.26 L205.68,607.90 L207.56,608.58 L209.45,609.27 L211.34,609.96 L213.23,610.63 L215.13,611.26 L217.04,611.85 L218.96,612.40 L220.90,612.91 L222.84,613.40 L224.79,613.86 L226.74,614.32 L228.69,614.76 L230.65,615.20 L232.60,615.65 L234.56,616.08 L236.52,616.51 L238.48,616.92 L240.44,617.29 L242.42,617.63 L244.40,617.92 L246.38,618.19 L248.37,618.43 L250.36,618.66 L252.36,618.87 L254.36,619.09 L256.36,619.32 L258.35,619.58 L260.33,619.90 L262.29,620.30 L264.22,620.79 L266.12,621.38 L267.98,622.07 L269.80,622.87 L271.58,623.76 L273.32,624.73 L275.02,625.79 L276.69,626.91 L278.32,628.08 L279.95,629.27 L281.57,630.46 L283.19,631.64 L284.82,632.81 L286.48,633.94 L288.15,635.04 L289.86,636.10 L291.59,637.10 L293.36,638.04 L295.16,638.91 L297.00,639.71 L298.88,640.44 L300.79,641.08 L302.73,641.62 L304.69,642.03 L306.66,642.28 L308.63,642.38 L310.60,642.33 L312.56,642.12 L314.51,641.77 L316.43,641.27 L318.33,640.64 L320.20,639.90 L322.04,639.08 L323.86,638.20 L325.65,637.28 L327.42,636.33 L329.18,635.37 L330.92,634.38 L332.65,633.36 L334.36,632.32 L336.06,631.26 L337.75,630.17 L339.42,629.07 L341.08,627.94 L342.72,626.79 L344.35,625.63 L345.97,624.44 L347.57,623.23 L349.15,622.01 L350.71,620.76 L352.26,619.48 L353.78,618.18 L355.29,616.86 L356.77,615.51 L358.23,614.14 L359.68,612.75 L361.10,611.34 L362.50,609.91 L363.89,608.46 L365.27,607.01 L366.65,605.56 L368.04,604.11 L369.43,602.67 L370.83,601.24 L372.25,599.82 L373.67,598.41 L375.11,597.02 L376.56,595.64 L378.04,594.28 L379.54,592.95 L381.06,591.64 L382.60,590.35 L384.16,589.10 L385.77,587.89 L387.41,586.74 L389.09,585.65 L390.82,584.64 L392.59,583.71 L394.41,582.88 L396.27,582.15 L398.17,581.54 L400.10,581.04 L402.06,580.67 L404.04,580.43 L406.03,580.32 L408.02,580.31 L410.02,580.39 L412.02,580.54 L414.02,580.74 L416.01,580.97 L418.01,581.22 L420.00,581.46 L421.99,581.68 L423.99,581.89 L425.98,582.08 L427.98,582.25 L429.97,582.41 L431.97,582.56 L433.97,582.73 L435.97,582.90 L437.96,583.09 L439.95,583.29 L441.95,583.50 L443.94,583.73 L445.93,583.97 L447.91,584.22 L449.90,584.50 L451.88,584.79 L453.86,585.10 L455.84,585.43 L457.81,585.78 L459.78,586.15 L461.74,586.55 L463.70,586.96 L465.66,587.40 L467.61,587.86 L469.56,588.34 L471.50,588.84 L473.43,589.36 L475.36,589.90 L477.28,590.46 L479.20,591.04 L481.12,591.64 L483.02,592.25 L484.92,592.89 L486.82,593.54 L488.70,594.21 L490.59,594.90 L492.46,595.61 L494.33,596.32 L496.20,597.05 L498.06,597.79 L499.92,598.53 L501.78,599.29 L503.64,600.05 L505.49,600.81 L507.34,601.58 L509.18,602.36 L511.03,603.14 L512.87,603.92 L514.72,604.71 L516.56,605.50 L518.40,606.29" fill="none" stroke="#140c0c" stroke-width="2.6" stroke-linejoin="round" stroke-linecap="round"/>
<path d="M117.20,611.30 L118.02,613.12 L118.85,614.95 L119.67,616.77 L120.50,618.59 L121.32,620.41 L122.15,622.24 L122.97,624.06 L123.78,625.89 L124.59,627.72 L125.37,629.56 L126.12,631.41 L126.85,633.28 L127.59,635.14 L128.37,636.98 L129.23,638.78 L130.21,640.52 L131.31,642.20 L132.51,643.80 L133.79,645.33 L135.12,646.83 L136.47,648.31 L137.80,649.80 L139.11,651.31 L140.43,652.81 L141.79,654.28 L143.22,655.68 L144.74,656.98 L146.39,658.10 L148.16,659.04 L150.00,659.82 L151.89,660.47 L153.83,660.97 L155.81,661.27 L157.79,661.11 L159.51,660.12 L160.92,658.71 L162.34,657.29 L163.61,655.75 L164.66,654.05 L165.68,652.33 L166.64,650.57 L167.58,648.81 L168.52,647.04 L169.47,645.28 L170.45,643.54 L171.49,641.83 L172.58,640.16 L173.71,638.51 L174.88,636.88 L176.08,635.28 L177.32,633.71 L178.57,632.15 L179.87,630.62 L181.20,629.13 L182.58,627.69 L184.03,626.30 L185.52,624.97 L187.07,623.71 L188.70,622.55 L190.41,621.51 L192.18,620.58 L194.01,619.77 L195.88,619.06 L197.79,618.46 L199.72,617.97 L201.69,617.64 L203.68,617.48 L205.67,617.47 L207.66,617.55 L209.65,617.70 L211.64,617.91 L213.63,618.17 L215.62,618.47 L217.60,618.79 L219.58,619.12 L221.55,619.46 L223.53,619.79 L225.51,620.10 L227.49,620.38 L229.47,620.62 L231.46,620.80 L233.45,620.92 L235.44,620.96 L237.43,620.94 L239.42,620.85 L241.41,620.69 L243.40,620.47 L245.39,620.21 L247.37,619.92 L249.35,619.61 L251.33,619.30 L253.31,618.97 L255.28,618.62 L257.24,618.25 L259.20,617.84 L261.15,617.39 L263.08,616.89 L265.01,616.35 L266.92,615.77 L268.82,615.16 L270.73,614.54 L272.63,613.93 L274.54,613.34 L276.46,612.79 L278.39,612.30 L280.34,611.88 L282.30,611.53 L284.28,611.24 L286.27,610.98 L288.26,610.72 L290.24,610.44 L292.21,610.11 L294.15,609.70 L296.07,609.21 L297.97,608.63 L299.85,607.97 L301.70,607.23 L303.54,606.44 L305.36,605.61 L307.17,604.75 L308.98,603.88 L310.79,603.00 L312.58,602.12 L314.37,601.22 L316.14,600.30 L317.88,599.32 L319.59,598.30 L321.27,597.22 L322.92,596.09 L324.56,594.93 L326.19,593.77 L327.83,592.63 L329.49,591.52 L331.18,590.47 L332.91,589.50 L334.68,588.60 L336.48,587.76 L338.32,586.98 L340.17,586.23 L342.03,585.49 L343.88,584.74 L345.73,583.96 L347.56,583.15 L349.37,582.31 L351.16,581.44 L352.95,580.54 L354.73,579.62 L356.51,578.71 L358.30,577.80 L360.09,576.91 L361.90,576.04 L363.71,575.20 L365.55,574.39 L367.39,573.63 L369.26,572.91 L371.15,572.25 L373.05,571.66 L374.98,571.14 L376.93,570.67 L378.91,570.25 L380.90,569.92 L382.89,569.69 L384.88,569.58 L386.86,569.61 L388.81,569.78 L390.74,570.10 L392.65,570.55 L394.53,571.13 L396.38,571.83 L398.20,572.65 L399.99,573.55 L401.76,574.51 L403.51,575.51 L405.26,576.52 L407.00,577.50 L408.74,578.48 L410.48,579.47 L412.22,580.47 L413.95,581.46 L415.70,582.44 L417.44,583.42 L419.20,584.38 L420.96,585.33 L422.72,586.27 L424.50,587.19 L426.28,588.11 L428.06,589.02 L429.85,589.91 L431.64,590.80 L433.44,591.67 L435.25,592.53 L437.06,593.37 L438.88,594.21 L440.71,595.02 L442.54,595.83 L444.38,596.62 L446.22,597.39 L448.07,598.14 L449.93,598.88 L451.80,599.60 L453.67,600.31 L455.55,601.00 L457.44,601.67 L459.33,602.32 L461.23,602.94 L463.13,603.55 L465.04,604.14 L466.96,604.71 L468.89,605.25 L470.82,605.77 L472.76,606.26 L474.70,606.73 L476.65,607.17 L478.61,607.59 L480.57,607.98 L482.54,608.35 L484.51,608.69 L486.49,609.01 L488.47,609.29 L490.45,609.55 L492.44,609.79 L494.43,609.99 L496.42,610.16 L498.41,610.30 L500.41,610.40 L502.41,610.46 L504.41,610.50 L506.41,610.50 L508.41,610.47 L510.41,610.41 L512.41,610.32 L514.41,610.21 L516.40,610.07 L518.40,609.96" fill="none" stroke="#d02a20" stroke-width="2.6" stroke-linejoin="round" stroke-linecap="round"/>
<path d="M117.20,609.50 L118.73,610.79 L120.12,612.23 L121.37,613.79 L122.52,615.43 L123.62,617.10 L124.72,618.78 L125.83,620.44 L126.97,622.08 L128.17,623.69 L129.45,625.23 L130.89,626.62 L132.48,627.83 L134.19,628.87 L135.98,629.75 L137.81,630.58 L139.62,631.43 L141.47,632.19 L143.36,632.87 L145.26,633.48 L147.17,634.07 L149.08,634.67 L150.99,635.28 L152.91,635.84 L154.86,636.28 L156.86,636.37 L158.77,635.83 L160.46,634.76 L162.03,633.51 L163.30,631.98 L164.49,630.37 L165.84,628.90 L167.21,627.43 L168.59,625.98 L170.01,624.57 L171.49,623.22 L173.06,621.98 L174.70,620.84 L176.40,619.78 L178.15,618.81 L179.95,617.93 L181.80,617.17 L183.71,616.59 L185.67,616.15 L187.64,615.82 L189.62,615.54 L191.61,615.28 L193.60,615.09 L195.60,614.96 L197.60,614.91 L199.60,614.92 L201.59,615.07 L203.59,615.24 L205.58,615.32 L207.58,615.31 L209.57,615.22 L211.56,615.12 L213.55,614.97 L215.54,614.78 L217.53,614.54 L219.52,614.28 L221.50,614.02 L223.49,613.77 L225.48,613.54 L227.47,613.31 L229.46,613.08 L231.44,612.83 L233.42,612.55 L235.40,612.24 L237.38,611.92 L239.35,611.58 L241.33,611.25 L243.31,610.94 L245.29,610.66 L247.27,610.41 L249.26,610.22 L251.25,610.09 L253.25,610.03 L255.25,610.03 L257.25,610.10 L259.25,610.24 L261.24,610.45 L263.22,610.71 L265.19,611.04 L267.15,611.42 L269.10,611.87 L271.04,612.36 L272.97,612.90 L274.88,613.49 L276.78,614.12 L278.67,614.78 L280.56,615.47 L282.44,616.16 L284.31,616.86 L286.20,617.54 L288.09,618.21 L289.98,618.84 L291.89,619.43 L293.81,619.98 L295.74,620.49 L297.68,620.97 L299.63,621.44 L301.58,621.90 L303.54,622.34 L305.50,622.76 L307.47,623.16 L309.44,623.51 L311.41,623.80 L313.39,624.01 L315.37,624.13 L317.35,624.14 L319.33,624.05 L321.32,623.85 L323.30,623.55 L325.27,623.17 L327.23,622.72 L329.17,622.23 L331.10,621.68 L333.02,621.09 L334.91,620.45 L336.79,619.76 L338.64,619.02 L340.48,618.22 L342.30,617.39 L344.10,616.51 L345.88,615.60 L347.65,614.66 L349.40,613.69 L351.15,612.71 L352.88,611.71 L354.62,610.71 L356.35,609.71 L358.09,608.71 L359.83,607.72 L361.58,606.75 L363.34,605.80 L365.12,604.88 L366.91,604.00 L368.73,603.15 L370.56,602.36 L372.41,601.60 L374.28,600.88 L376.16,600.20 L378.06,599.56 L379.97,598.97 L381.89,598.41 L383.83,597.89 L385.77,597.42 L387.73,596.98 L389.69,596.58 L391.65,596.22 L393.63,595.89 L395.61,595.59 L397.59,595.32 L399.58,595.07 L401.57,594.85 L403.56,594.63 L405.55,594.43 L407.54,594.24 L409.54,594.06 L411.53,593.89 L413.53,593.72 L415.52,593.56 L417.52,593.39 L419.52,593.19 L421.52,593.02 L423.52,592.90 L425.51,592.83 L427.49,592.80 L429.48,592.82 L431.46,592.89 L433.44,592.99 L435.42,593.13 L437.40,593.30 L439.39,593.48 L441.37,593.68 L443.36,593.89 L445.35,594.08 L447.34,594.26 L449.34,594.42 L451.34,594.58 L453.33,594.78 L455.32,594.99 L457.31,595.22 L459.29,595.47 L461.28,595.72 L463.26,595.99 L465.25,596.27 L467.22,596.57 L469.20,596.87 L471.18,597.18 L473.16,597.49 L475.13,597.81 L477.11,598.15 L479.08,598.49 L481.05,598.84 L483.02,599.21 L484.98,599.59 L486.95,599.97 L488.91,600.36 L490.87,600.76 L492.83,601.16 L494.79,601.56 L496.75,601.97 L498.72,602.36 L500.68,602.75 L502.65,603.12 L504.61,603.49 L506.58,603.85 L508.55,604.21 L510.52,604.57 L512.49,604.93 L514.46,605.28 L516.43,605.64 L518.40,606.00" fill="none" stroke="#2549a2" stroke-width="2.6" stroke-linejoin="round" stroke-linecap="round"/>
<path d="M118.20,582.50 L118.53,584.48 L118.85,586.45 L119.18,588.43 L119.51,590.40 L119.83,592.38 L120.16,594.35 L120.49,596.33 L120.81,598.30 L121.14,600.28 L121.47,602.25 L121.79,604.23 L122.11,606.20 L122.43,608.18 L122.74,610.16 L123.05,612.14 L123.35,614.11 L123.65,616.09 L123.95,618.07 L124.24,620.05 L124.53,622.03 L124.81,624.02 L125.09,626.00 L125.35,627.98 L125.61,629.97 L125.88,631.95 L126.15,633.94 L126.44,635.92 L126.83,637.88 L127.18,639.85 L127.50,641.83 L127.81,643.81 L128.11,645.78 L128.42,647.76 L128.72,649.74 L129.03,651.72 L129.34,653.70 L129.66,655.67 L129.98,657.65 L130.32,659.62 L130.66,661.60 L131.01,663.57 L131.39,665.53 L131.78,667.50 L132.20,669.45 L132.63,671.41 L133.08,673.36 L133.55,675.31 L134.03,677.25 L134.54,679.19 L135.05,681.12 L135.58,683.05 L136.13,684.98 L136.68,686.90 L137.24,688.82 L137.82,690.74 L138.41,692.65 L139.02,694.56 L139.64,696.46 L140.27,698.36 L140.91,700.26 L141.56,702.15 L142.22,704.04 L142.89,705.93 L143.56,707.82 L144.25,709.70 L144.93,711.58 L145.63,713.45 L146.34,715.33 L147.05,717.20 L147.78,719.06 L148.53,720.92 L149.30,722.77 L150.09,724.60 L150.93,726.43 L151.78,728.24 L152.60,730.06 L153.42,731.89 L154.28,733.69 L155.29,735.42 L156.73,736.77 L158.47,736.06 L159.54,734.37 L160.35,732.54 L161.06,730.67 L161.73,728.78 L162.40,726.90 L163.06,725.01 L163.74,723.12 L164.40,721.23 L165.04,719.34 L165.67,717.44 L166.29,715.53 L166.90,713.63 L167.51,711.72 L168.12,709.81 L168.72,707.90 L169.32,705.99 L169.91,704.08 L170.51,702.17 L171.10,700.26 L171.69,698.34 L172.29,696.43 L172.88,694.52 L173.48,692.61 L174.08,690.70 L174.68,688.79 L175.28,686.88 L175.87,684.97 L176.45,683.05 L177.03,681.13 L177.61,679.22 L178.19,677.30 L178.80,675.40 L179.42,673.49 L180.07,671.60 L180.74,669.71 L181.41,667.83 L182.09,665.94 L182.79,664.07 L183.51,662.20 L184.24,660.34 L185.01,658.49 L185.81,656.65 L186.65,654.83 L187.53,653.04 L188.46,651.26 L189.44,649.52 L190.47,647.80 L191.54,646.11 L192.64,644.44 L193.77,642.79 L194.93,641.16 L196.14,639.56 L197.40,638.00 L198.72,636.50 L200.14,635.08 L201.67,633.79 L203.31,632.62 L205.03,631.61 L206.83,630.76 L208.69,630.12 L210.61,629.68 L212.56,629.40 L214.54,629.29 L216.53,629.34 L218.52,629.53 L220.50,629.87 L222.50,630.37 L224.47,630.90 L226.40,631.39 L228.32,631.81 L230.22,632.17 L232.11,632.47 L234.00,632.70 L235.90,632.89 L237.81,633.03 L239.73,633.14 L241.66,633.22 L243.61,633.26 L245.58,633.27 L247.56,633.26 L249.55,633.24 L251.55,633.22 L253.55,633.12 L255.52,632.89 L257.50,632.59 L259.47,632.24 L261.43,631.86 L263.40,631.47 L265.37,631.10 L267.34,630.76 L269.32,630.47 L271.31,630.22 L273.30,630.02 L275.29,629.85 L277.29,629.72 L279.29,629.62 L281.29,629.54 L283.29,629.47 L285.29,629.43 L287.30,629.42 L289.31,629.45 L291.33,629.50 L293.36,629.53 L295.38,629.51 L297.38,629.40 L299.35,629.17 L301.27,628.79 L303.14,628.26 L304.95,627.55 L306.67,626.66 L308.31,625.60 L309.85,624.36 L311.28,622.97 L312.63,621.46 L313.88,619.87 L315.07,618.24 L316.22,616.59 L317.36,614.93 L318.52,613.30 L319.73,611.71 L320.98,610.17 L322.29,608.66 L323.62,607.17 L324.96,605.69 L326.27,604.20 L327.53,602.67 L328.71,601.10 L329.79,599.47 L330.76,597.77 L331.60,595.99 L332.33,594.14 L332.97,592.23 L333.56,590.30 L334.14,588.37 L334.74,586.45 L335.38,584.55 L336.06,582.67 L336.78,580.81 L337.55,578.96 L338.34,577.13 L339.16,575.31 L340.00,573.49 L340.84,571.67 L341.68,569.85 L342.50,568.02 L343.30,566.19 L344.08,564.35 L344.85,562.50 L345.61,560.65 L346.37,558.80 L347.13,556.94 L347.90,555.10 L348.68,553.25 L349.48,551.42 L350.29,549.58 L351.10,547.76 L351.93,545.93 L352.77,544.11 L353.61,542.30 L354.46,540.48 L355.31,538.67 L356.17,536.86 L357.04,535.06 L357.92,533.26 L358.82,531.47 L359.74,529.70 L360.69,527.94 L361.67,526.19 L362.68,524.46 L363.71,522.75 L364.77,521.05 L365.85,519.37 L366.96,517.70 L368.09,516.04 L369.24,514.40 L370.39,512.76 L371.55,511.11 L372.74,509.48 L373.97,507.88 L375.26,506.29 L376.62,504.75 L378.06,503.33 L379.59,502.07 L381.23,501.00 L382.95,500.16 L384.75,499.57 L386.61,499.28 L388.51,499.27 L390.41,499.55 L392.28,500.10 L394.11,500.88 L395.86,501.85 L397.54,502.99 L399.14,504.26 L400.64,505.61 L402.07,507.02 L403.43,508.50 L404.74,510.03 L406.00,511.59 L407.24,513.17 L408.45,514.76 L409.65,516.37 L410.84,517.98 L412.04,519.59 L413.24,521.19 L414.45,522.79 L415.67,524.37 L416.91,525.95 L418.14,527.52 L419.38,529.09 L420.63,530.66 L421.87,532.23 L423.12,533.79 L424.38,535.35 L425.64,536.91 L426.90,538.46 L428.17,540.01 L429.44,541.56 L430.71,543.10 L431.99,544.64 L433.28,546.18 L434.57,547.71 L435.86,549.24 L437.16,550.76 L438.46,552.28 L439.77,553.79 L441.09,555.30 L442.40,556.81 L443.73,558.31 L445.06,559.81 L446.40,561.30 L447.74,562.78 L449.09,564.26 L450.44,565.73 L451.81,567.20 L453.18,568.66 L454.55,570.11 L455.94,571.56 L457.33,573.00 L458.74,574.43 L460.15,575.85 L461.57,577.26 L463.00,578.66 L464.44,580.05 L465.89,581.43 L467.35,582.80 L468.82,584.16 L470.30,585.50 L471.80,586.83 L473.31,588.14 L474.84,589.44 L476.38,590.72 L477.93,591.98 L479.50,593.22 L481.09,594.44 L482.70,595.63 L484.32,596.80 L485.97,597.95 L487.63,599.06 L489.32,600.14 L491.02,601.19 L492.75,602.20 L494.51,603.16 L496.29,604.08 L498.09,604.96 L499.92,605.78 L501.78,606.52 L503.66,607.20 L505.56,607.81 L507.49,608.33 L509.44,608.77 L511.40,609.11 L513.39,609.35 L515.39,609.49 L517.41,609.52 L518.40,609.57" fill="none" stroke="#127a76" stroke-width="2.6" stroke-linejoin="round" stroke-linecap="round"/>
<path d="M117.80,576.50 L118.15,578.47 L118.50,580.44 L118.84,582.42 L119.19,584.39 L119.54,586.36 L119.89,588.33 L120.24,590.30 L120.59,592.28 L120.94,594.25 L121.30,596.22 L121.65,598.19 L122.01,600.16 L122.37,602.13 L122.74,604.10 L123.11,606.06 L123.48,608.03 L123.84,610.00 L124.21,611.97 L124.57,613.94 L124.94,615.91 L125.32,617.87 L125.70,619.84 L126.09,621.80 L126.49,623.77 L126.90,625.73 L127.33,627.68 L127.78,629.63 L128.24,631.58 L128.72,633.53 L129.21,635.47 L129.71,637.41 L130.22,639.34 L130.74,641.28 L131.27,643.21 L131.81,645.13 L132.37,647.06 L132.94,648.98 L133.53,650.89 L134.13,652.80 L134.76,654.70 L135.41,656.60 L136.10,658.48 L136.82,660.34 L137.59,662.19 L138.40,664.03 L139.25,665.84 L140.12,667.64 L141.01,669.44 L141.91,671.22 L142.81,673.01 L143.71,674.80 L144.63,676.58 L145.57,678.35 L146.55,680.09 L147.59,681.80 L148.71,683.47 L149.92,685.06 L151.21,686.60 L152.56,688.07 L154.01,689.45 L155.58,690.69 L157.40,691.50 L159.14,690.70 L160.24,689.03 L161.17,687.26 L162.25,685.58 L163.43,683.96 L164.37,682.19 L165.19,680.36 L165.94,678.51 L166.67,676.64 L167.38,674.77 L168.08,672.90 L168.78,671.02 L169.49,669.14 L170.20,667.27 L170.92,665.41 L171.66,663.54 L172.40,661.68 L173.15,659.82 L173.89,657.97 L174.65,656.11 L175.42,654.26 L176.20,652.42 L177.00,650.59 L177.83,648.76 L178.67,646.95 L179.53,645.14 L180.41,643.34 L181.32,641.55 L182.25,639.78 L183.20,638.02 L184.18,636.27 L185.17,634.53 L186.19,632.81 L187.24,631.10 L188.35,629.44 L189.55,627.83 L190.87,626.33 L192.34,624.97 L193.94,623.77 L195.63,622.69 L197.36,621.68 L199.17,620.83 L201.07,620.20 L203.02,619.78 L204.99,619.47 L206.97,619.30 L208.96,619.25 L210.96,619.33 L212.96,619.52 L214.95,619.80 L216.92,620.15 L218.88,620.58 L220.82,621.07 L222.76,621.60 L224.69,622.16 L226.62,622.72 L228.55,623.27 L230.48,623.79 L232.42,624.27 L234.38,624.69 L236.34,625.06 L238.32,625.35 L240.30,625.56 L242.30,625.69 L244.29,625.75 L246.30,625.74 L248.30,625.67 L250.30,625.55 L252.29,625.38 L254.28,625.16 L256.27,624.91 L258.25,624.61 L260.23,624.28 L262.20,623.91 L264.16,623.50 L266.11,623.06 L268.06,622.59 L270.00,622.11 L271.94,621.62 L273.88,621.12 L275.82,620.63 L277.76,620.14 L279.71,619.68 L281.66,619.23 L283.62,618.80 L285.58,618.39 L287.55,618.01 L289.52,617.69 L291.51,617.43 L293.50,617.23 L295.50,617.05 L297.51,616.87 L299.50,616.66 L301.47,616.40 L303.41,616.05 L305.32,615.59 L307.19,615.01 L309.01,614.30 L310.79,613.44 L312.52,612.46 L314.21,611.37 L315.86,610.20 L317.49,609.00 L319.09,607.77 L320.67,606.52 L322.20,605.23 L323.69,603.88 L325.10,602.48 L326.44,601.01 L327.69,599.47 L328.85,597.87 L329.94,596.20 L330.97,594.49 L331.96,592.74 L332.91,590.98 L333.86,589.21 L334.80,587.44 L335.77,585.68 L336.75,583.94 L337.76,582.21 L338.79,580.49 L339.83,578.78 L340.88,577.07 L341.92,575.36 L342.95,573.65 L343.98,571.93 L345.01,570.21 L346.03,568.49 L347.05,566.76 L348.06,565.04 L349.06,563.30 L350.07,561.57 L351.07,559.83 L352.07,558.10 L353.09,556.37 L354.13,554.66 L355.19,552.96 L356.29,551.29 L357.42,549.64 L358.60,548.03 L359.83,546.45 L361.10,544.90 L362.42,543.39 L363.78,541.91 L365.20,540.48 L366.66,539.11 L368.18,537.79 L369.76,536.55 L371.40,535.40 L373.10,534.38 L374.86,533.48 L376.69,532.72 L378.58,532.07 L380.52,531.56 L382.50,531.19 L384.50,530.99 L386.49,530.97 L388.46,531.11 L390.41,531.40 L392.35,531.83 L394.26,532.38 L396.14,533.04 L397.98,533.82 L399.77,534.72 L401.49,535.74 L403.15,536.87 L404.74,538.07 L406.29,539.32 L407.80,540.61 L409.26,541.96 L410.69,543.35 L412.10,544.78 L413.48,546.23 L414.88,547.68 L416.29,549.10 L417.73,550.49 L419.20,551.86 L420.68,553.20 L422.17,554.54 L423.67,555.86 L425.18,557.18 L426.70,558.49 L428.22,559.79 L429.75,561.08 L431.29,562.36 L432.83,563.64 L434.38,564.91 L435.94,566.16 L437.50,567.42 L439.07,568.66 L440.64,569.90 L442.22,571.14 L443.80,572.36 L445.39,573.58 L446.98,574.80 L448.58,576.01 L450.18,577.22 L451.78,578.41 L453.39,579.61 L455.00,580.80 L456.61,581.98 L458.23,583.16 L459.86,584.33 L461.48,585.50 L463.12,586.66 L464.75,587.82 L466.39,588.96 L468.04,590.11 L469.69,591.24 L471.35,592.36 L473.01,593.48 L474.68,594.58 L476.36,595.68 L478.04,596.76 L479.73,597.83 L481.44,598.88 L483.15,599.92 L484.87,600.95 L486.60,601.95 L488.35,602.93 L490.10,603.89 L491.87,604.83 L493.66,605.74 L495.46,606.62 L497.27,607.47 L499.11,608.28 L500.96,609.05 L502.83,609.77 L504.71,610.44 L506.62,611.05 L508.54,611.59 L510.48,612.07 L512.44,612.47 L514.41,612.80 L516.41,613.04 L518.40,613.25" fill="none" stroke="#a650a0" stroke-width="2.6" stroke-linejoin="round" stroke-linecap="round"/>
<rect x="303.00" y="245.70" width="240.00" height="105.30" fill="#ffffff" stroke="#8c8c8c" stroke-width="1.1"/>
<g font-family='"Liberation Sans", sans-serif' font-weight="bold" font-size="16.00" fill="#1c1414">
<line x1="305.00" y1="256.30" x2="344.50" y2="256.30" stroke="#140c0c" stroke-width="2.9" stroke-linecap="round"/>
<text x="349.26" y="262.60" textLength="141.55" lengthAdjust="spacingAndGlyphs">HCV-3b probe (ss)</text>
<line x1="305.00" y1="277.50" x2="344.50" y2="277.50" stroke="#d02a20" stroke-width="2.9" stroke-linecap="round"/>
<text x="349.26" y="283.80" textLength="82.58" lengthAdjust="spacingAndGlyphs">3b-pm (ss)</text>
<line x1="305.00" y1="298.70" x2="344.50" y2="298.70" stroke="#2549a2" stroke-width="2.9" stroke-linecap="round"/>
<text x="349.26" y="305.00" textLength="190.89" lengthAdjust="spacingAndGlyphs">HCV-3b nDNA probe (ss)</text>
<line x1="305.00" y1="319.90" x2="344.50" y2="319.90" stroke="#127a76" stroke-width="2.9" stroke-linecap="round"/>
<text x="349.26" y="326.20" textLength="111.33" lengthAdjust="spacingAndGlyphs">HCV-3b/3b-pm</text>
<line x1="305.00" y1="341.10" x2="344.50" y2="341.10" stroke="#a650a0" stroke-width="2.9" stroke-linecap="round"/>
<text x="349.26" y="347.40" textLength="161.32" lengthAdjust="spacingAndGlyphs">HCV-3b nDNA/3b-pm</text>
</g>
<rect x="311.50" y="672.80" width="210.70" height="90.90" fill="#ffffff" stroke="#8c8c8c" stroke-width="1.1"/>
<g font-family='"Liberation Sans", sans-serif' font-weight="bold" font-size="14.00" fill="#1c1414">
<line x1="313.30" y1="681.80" x2="348.40" y2="681.80" stroke="#140c0c" stroke-width="2.9" stroke-linecap="round"/>
<text x="351.89" y="687.60" textLength="124.95" lengthAdjust="spacingAndGlyphs">HCV-3b probe (ss)</text>
<line x1="313.30" y1="700.30" x2="348.40" y2="700.30" stroke="#d02a20" stroke-width="2.9" stroke-linecap="round"/>
<text x="351.89" y="706.10" textLength="72.89" lengthAdjust="spacingAndGlyphs">3b-pm (ss)</text>
<line x1="313.30" y1="718.80" x2="348.40" y2="718.80" stroke="#2549a2" stroke-width="2.9" stroke-linecap="round"/>
<text x="351.89" y="724.60" textLength="168.50" lengthAdjust="spacingAndGlyphs">HCV-3b nDNA probe (ss)</text>
<line x1="313.30" y1="737.30" x2="348.40" y2="737.30" stroke="#127a76" stroke-width="2.9" stroke-linecap="round"/>
<text x="351.89" y="743.10" textLength="98.27" lengthAdjust="spacingAndGlyphs">HCV-3b/3b-pm</text>
<line x1="313.30" y1="755.80" x2="348.40" y2="755.80" stroke="#a650a0" stroke-width="2.9" stroke-linecap="round"/>
<text x="351.89" y="761.60" textLength="142.40" lengthAdjust="spacingAndGlyphs">HCV-3b nDNA/3b-pm</text>
</g>
</svg>
</body></html>
